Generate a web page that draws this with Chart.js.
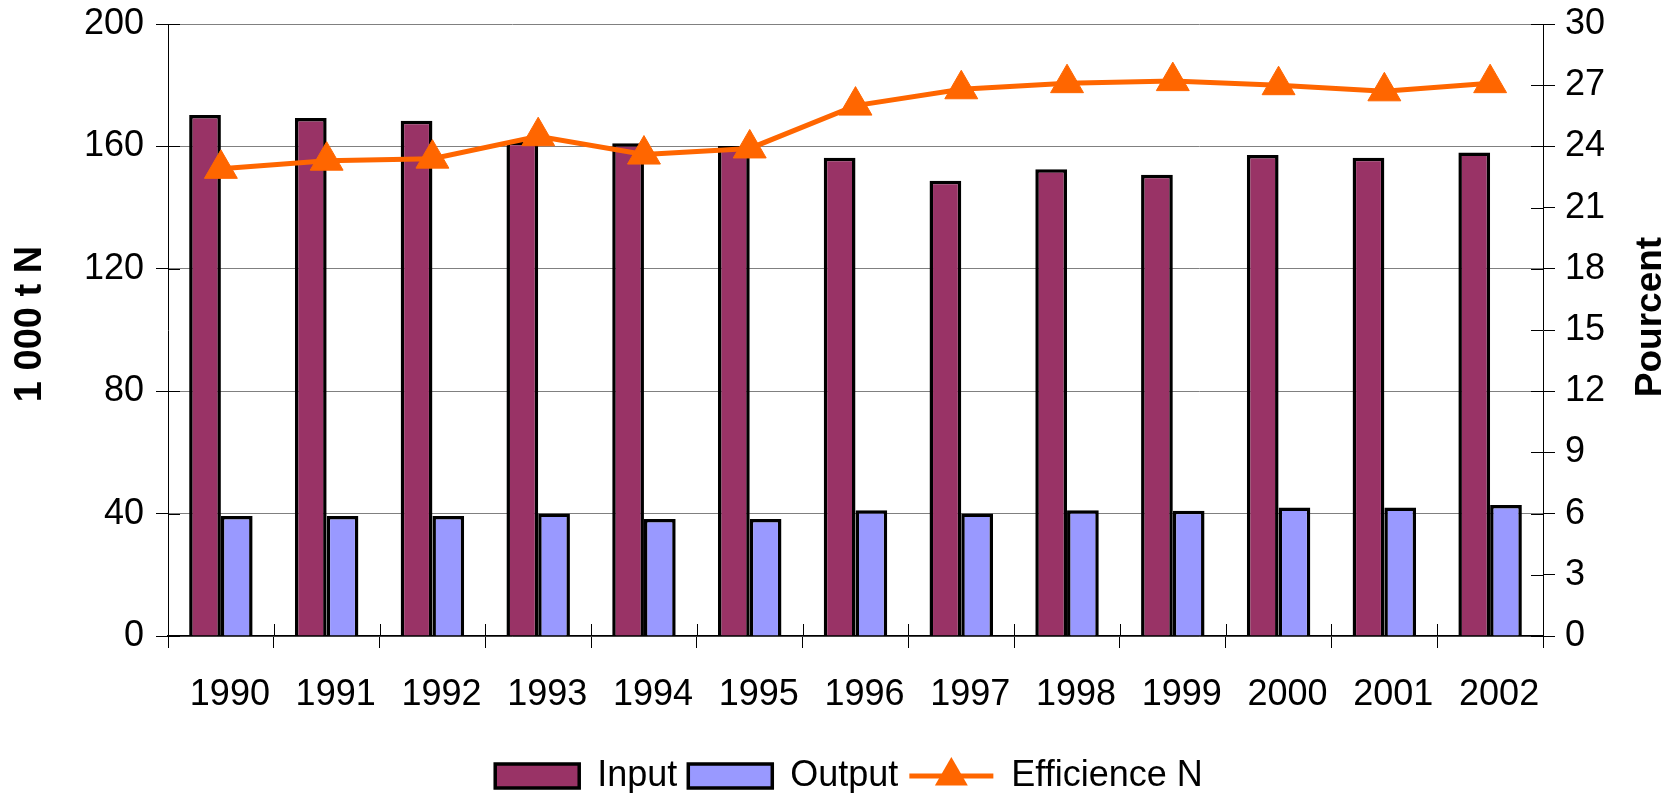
<!DOCTYPE html>
<html>
<head>
<meta charset="utf-8">
<script src="https://cdn.jsdelivr.net/npm/chart.js@4/dist/chart.umd.min.js"></script>
<style>
  html, body { margin: 0; padding: 0; background: #fff; }
  #wrap { width: 1675px; height: 793px; }
</style>
</head>
<body>
<div id="wrap"><canvas id="nChart" width="1675" height="793"></canvas></div>
<script>
// valeurs
var years = ['1990', '1991', '1992', '1993', '1994', '1995', '1996', '1997', '1998', '1999', '2000', '2001', '2002'];
var inputN = [170.3, 169.3, 168.4, 161.5, 161.0, 160.1, 156.3, 148.8, 152.5, 150.7, 157.2, 156.3, 158.0];
var outputN = [39.2, 39.2, 39.2, 40.0, 38.2, 38.2, 41.1, 40.0, 41.1, 40.9, 42.0, 42.0, 42.8];
var efficience = [22.9, 23.3, 23.4, 24.5, 23.6, 23.9, 26.0, 26.8, 27.1, 27.2, 27.0, 26.7, 27.1];
var leftTicks = [0, 40, 80, 120, 160, 200];
var rightTicks = [0, 3, 6, 9, 12, 15, 18, 21, 24, 27, 30];
var seriesNames = ['Input', 'Output', 'Efficience N'];
var axisTitles = ['1 000 t N', 'Pourcent'];

var FONT = 'Liberation Sans, Arial, sans-serif';
var ORANGE = '#FF6600';
var TICK = 12;

// petits traits qui traversent les axes, titres des axes, symbole de la ligne dans la légende
var axisExtras = {
    id: 'axisExtras',
    afterLayout: function(chart) {
        chart.legend.top += 11;
        chart.legend.bottom += 11;
    },
    beforeDatasetsDraw: function(chart) {
        var ctx = chart.ctx, a = chart.chartArea;
        var x = chart.scales.x, y = chart.scales.y, y2 = chart.scales.y2;
        ctx.save();
        ctx.strokeStyle = '#000';
        ctx.lineWidth = 1;
        ctx.beginPath();
        y.ticks.forEach(function(t) {
            var p = Math.round(y.getPixelForValue(t.value)) + 0.5;
            ctx.moveTo(a.left, p); ctx.lineTo(a.left + TICK, p);
        });
        y2.ticks.forEach(function(t) {
            var p = Math.round(y2.getPixelForValue(t.value)) + 0.5;
            ctx.moveTo(a.right - TICK, p); ctx.lineTo(a.right, p);
        });
        var step = x.getPixelForValue(1) - x.getPixelForValue(0);
        for (var i = 0; i <= years.length; i++) {
            var px = Math.round(x.getPixelForValue(0) - step / 2 + i * step) + 0.5;
            ctx.moveTo(px, a.bottom - TICK); ctx.lineTo(px, a.bottom);
        }
        ctx.stroke();
        ctx.restore();
    },
    afterDraw: function(chart) {
        var ctx = chart.ctx;
        ctx.save();
        ctx.fillStyle = '#000';
        ctx.textAlign = 'center';
        ctx.textBaseline = 'middle';
        ctx.font = 'bold 38px ' + FONT;
        ctx.translate(31, 324);
        ctx.rotate(-Math.PI / 2);
        ctx.fillText(axisTitles[0], 0, 0);
        ctx.setTransform(1, 0, 0, 1, 0, 0);
        ctx.font = 'bold 37px ' + FONT;
        ctx.translate(1651, 317);
        ctx.rotate(-Math.PI / 2);
        ctx.fillText(axisTitles[1], 0, 0);
        ctx.restore();

        var legend = chart.legend;
        legend.legendItems.forEach(function(item, i) {
            if (item.datasetIndex !== 2) return;
            var hb = legend.legendHitBoxes[i];
            var cy = hb.top + hb.height / 2;
            var bw = legend.options.labels.boxWidth;
            ctx.save();
            ctx.strokeStyle = ORANGE;
            ctx.lineWidth = 5;
            ctx.beginPath();
            ctx.moveTo(hb.left, cy);
            ctx.lineTo(hb.left + bw, cy);
            ctx.stroke();
            ctx.fillStyle = ORANGE;
            var r = 19, cx = hb.left + bw / 2;
            ctx.beginPath();
            ctx.moveTo(cx, cy - r);
            ctx.lineTo(cx + r * Math.sin(2 * Math.PI / 3), cy + r / 2);
            ctx.lineTo(cx - r * Math.sin(2 * Math.PI / 3), cy + r / 2);
            ctx.closePath();
            ctx.fill();
            ctx.restore();
        });
    }
};

function fixWidth(w) {
    return function(scale) {
        scale.width = w;
        scale.paddingTop = 0;
        scale.paddingBottom = 0;
    };
}

var ctx = document.getElementById('nChart').getContext('2d');
var nChart = new Chart(ctx, {
    type: 'bar',
    data: {
        labels: years,
        datasets: [{
            label: seriesNames[0],
            data: inputN,
            backgroundColor: '#993366',
            borderColor: '#000',
            borderWidth: 3.5,
            yAxisID: 'y',
            order: 1
        }, {
            label: seriesNames[1],
            data: outputN,
            backgroundColor: '#9999FF',
            borderColor: '#000',
            borderWidth: 3.5,
            yAxisID: 'y',
            order: 2
        }, {
            type: 'line',
            label: seriesNames[2],
            data: efficience,
            borderColor: ORANGE,
            backgroundColor: ORANGE,
            borderWidth: 5,
            tension: 0,
            pointStyle: 'triangle',
            pointRadius: 19,
            pointBackgroundColor: ORANGE,
            pointBorderColor: ORANGE,
            pointBorderWidth: 1,
            yAxisID: 'y2',
            order: 0
        }]
    },
    options: {
        responsive: false,
        animation: false,
        events: [],
        categoryPercentage: 0.6,
        barPercentage: 1,
        layout: { padding: { left: 23, right: 0, top: 24, bottom: 0 } },
        scales: {
            x: {
                offset: true,
                grid: { offset: true, drawOnChartArea: false, tickLength: TICK, tickColor: '#000' },
                border: { color: '#000', width: 1.5 },
                ticks: { font: { size: 36, family: FONT }, color: '#000', padding: 25, labelOffset: 9, maxRotation: 0, autoSkip: false },
                afterFit: function(scale) {
                    scale.height = 100;
                    scale.paddingLeft = 0;
                    scale.paddingRight = 0;
                }
            },
            y: {
                position: 'left',
                min: 0,
                max: 200,
                afterBuildTicks: function(scale) {
                    scale.ticks = leftTicks.map(function(v) { return { value: v }; });
                },
                grid: { color: '#808080', lineWidth: 1, tickLength: TICK, tickColor: '#000' },
                border: { color: '#000', width: 1 },
                ticks: { font: { size: 36, family: FONT }, color: '#000', padding: 12 },
                afterFit: fixWidth(145)
            },
            y2: {
                position: 'right',
                min: 0,
                max: 30,
                afterBuildTicks: function(scale) {
                    scale.ticks = rightTicks.map(function(v) { return { value: v }; });
                },
                grid: { drawOnChartArea: false, tickLength: TICK, tickColor: '#000' },
                border: { color: '#000', width: 1 },
                ticks: { font: { size: 36, family: FONT }, color: '#000', padding: 10 },
                afterFit: fixWidth(132)
            }
        },
        plugins: {
            tooltip: { enabled: false },
            legend: {
                position: 'bottom',
                labels: {
                    font: { size: 36, family: FONT },
                    color: '#000',
                    boxWidth: 84,
                    boxHeight: 24,
                    padding: 11,
                    sort: function(a, b) { return a.datasetIndex - b.datasetIndex; },
                    generateLabels: function(chart) {
                        var items = Chart.defaults.plugins.legend.labels.generateLabels(chart);
                        items.forEach(function(it) {
                            if (it.datasetIndex === 2) {
                                it.fillStyle = 'rgba(0,0,0,0)';
                                it.strokeStyle = 'rgba(0,0,0,0)';
                            }
                        });
                        return items;
                    }
                }
            }
        }
    },
    plugins: [axisExtras]
});
</script>
</body>
</html>
